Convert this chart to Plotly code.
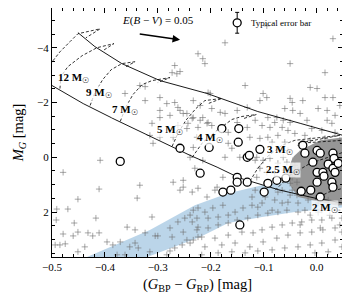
import plotly.graph_objects as go

# ---------------- data ----------------
# Reddening band (upper then lower edge)
band_x = [-0.441, -0.315, -0.230, -0.167, -0.103, -0.041, 0.054, 0.054, -0.041, -0.103, -0.167, -0.220, -0.328]
band_y = [3.70, 2.65, 1.75, 1.31, 1.02, 0.84, 0.58, 1.82, 2.00, 2.18, 2.40, 2.91, 3.70]

# Dense core of the field-star cloud
core_x = [-0.031, 0.007, 0.050, 0.050, 0.035, 0.016, -0.012, -0.035, -0.050, -0.054, -0.045]
core_y = [-0.25, -0.62, -0.73, 1.75, 1.75, 1.67, 1.56, 1.45, 1.02, 0.47, 0.00]

# Field stars (+ markers)
field_x = [
    -0.094, -0.173, 0.031, -0.224, -0.215, -0.211, -0.273, -0.258, -0.050, 0.016, -0.135, -0.268,
    0.031, 0.016, -0.012, 0.001, -0.101, -0.094, -0.050, -0.046, -0.201,
    -0.334, -0.324, -0.362, -0.324, -0.264, -0.296, -0.283, -0.268, -0.262, -0.233, -0.220,
    -0.296, -0.277, -0.252, -0.233, -0.215, -0.205, -0.243, -0.224, -0.315, -0.296, -0.271,
    -0.409, -0.205, -0.198, -0.182, -0.173, -0.258, -0.245, -0.235, -0.220, -0.207, -0.198,
    -0.296, -0.311, -0.262, -0.245, -0.167, -0.150, -0.131, -0.126, -0.167, -0.160, -0.145,
    -0.309, -0.233, -0.226, -0.173, -0.116, -0.150,
    -0.026, 0.003, 0.020, -0.060, -0.045, -0.031, -0.075, -0.063, -0.050, -0.018, 0.020,
    -0.088, -0.116, -0.131, -0.107, -0.092, -0.079, -0.103, -0.065, -0.054, -0.041, -0.073,
    -0.092, -0.107, -0.084, -0.060, 0.029, 0.010, 0.035, -0.009, -0.022,
    -0.113, -0.101, -0.088, -0.073, -0.056, -0.041, -0.035, -0.107, -0.094, -0.079, -0.113,
    -0.046, -0.050, -0.037, -0.046, -0.037, -0.054, -0.035, -0.016, 0.003, 0.022, 0.041,
    -0.022, 0.010, 0.039, -0.079, -0.097, -0.111, -0.084, -0.056,
    -0.239, -0.215, -0.230, -0.252, -0.258, -0.188, -0.177, -0.411, -0.334, -0.339, -0.271,
    -0.252, -0.235, -0.224, -0.207, -0.192, -0.122, -0.116, -0.073,
    -0.479, -0.451, -0.491, -0.470, -0.492, -0.458, -0.417, -0.311, -0.479, -0.494, -0.485,
    -0.475, -0.460, -0.451, -0.432, -0.423, -0.411, -0.438, -0.451, -0.358, -0.343, -0.324,
    -0.305, -0.300, -0.396, -0.385, -0.371, -0.353, -0.343, -0.337, -0.315, -0.377, -0.362,
    -0.283, -0.277, -0.268, -0.254, -0.245, -0.239, -0.233, -0.277, -0.262, -0.249, -0.239,
    -0.233, -0.226, -0.273, -0.252, -0.226, -0.224, -0.235,
    -0.224, -0.211, -0.196, -0.177, -0.205, -0.186, -0.167, -0.154, -0.139, -0.122, -0.103,
    -0.065, -0.224, -0.205, -0.186, -0.167, -0.150, -0.130, -0.111, -0.092, -0.073, -0.035,
    0.003, -0.217, -0.192, -0.167, -0.141, -0.120, -0.103, -0.084, -0.065, -0.046, -0.028,
    -0.009, 0.010, 0.029, 0.048, -0.211, -0.179, -0.154, -0.126, -0.101, -0.075, -0.054,
    -0.031, -0.009, 0.012, 0.035, 0.048, -0.217, -0.186, -0.160, -0.135, -0.111, -0.084,
    -0.060, -0.035, -0.012, 0.010, 0.035, 0.048, -0.003, 0.022,
    -0.031, -0.012, 0.016, 0.044, -0.054, -0.063, -0.060, -0.063, -0.065, -0.050, 0.025,
    -0.012, 0.044, 0.007, -0.031, 0.044, 0.035,
]
field_y = [
    -4.80, -4.18, -4.33, -3.78, -3.60, -3.42, -3.09, -3.13, -3.42, -3.09, -2.62, -3.35,
    -2.18, -2.18, -2.55, -2.51, -2.33, -2.18, -2.15, -2.00, -2.33,
    -2.62, -2.58, -2.33, -2.07, -3.05, -2.18, -1.96, -2.00, -1.82, -2.07, -1.89,
    -1.71, -1.53, -1.60, -1.45, -1.45, -1.27, -1.24, -1.09, -0.80, -0.73, -0.73,
    0.11, -2.36, -1.78, -1.64, -1.60, -1.71, -1.60, -1.42, -1.35, -1.24, -1.16,
    -1.45, -1.24, -1.16, -1.05, -0.91, -1.27, -1.09, -0.73, -0.51, -0.33, 0.00,
    -0.51, -0.36, -0.73, 0.00, 0.11, -1.71,
    -2.07, -1.78, -1.71, -1.78, -1.71, -1.60, -1.45, -1.35, -1.27, -1.35, -1.35,
    -1.09, -1.35, -1.82, -2.07, -1.45, -1.27, -1.16, -1.09, -0.98, -0.87, -0.80,
    -0.73, -0.69, -0.55, -0.55, -1.24, -0.98, -0.91, -1.05, -0.80,
    0.00, 0.11, 0.04, 0.22, 0.18, 0.29, 0.47, 0.40, 0.55, 0.58, 0.73,
    0.73, 0.95, 0.91, 1.20, 1.38, 1.64, 1.67, 1.56, 1.67, 1.56, 1.67,
    1.93, 1.93, 1.93, 1.56, 1.45, 1.82, 1.93, 1.93,
    0.00, 0.11, 0.40, 0.84, 1.20, 1.09, 0.73, 1.16, 1.02, 1.49, 0.91,
    1.09, 1.27, 1.13, 1.45, 1.20, 1.45, 1.20, 1.27,
    0.55, 1.53, 1.89, 1.89, 2.29, 2.40, 2.22, 2.18, 2.80, 3.20, 3.20,
    3.16, 2.87, 2.73, 2.76, 2.87, 2.76, 3.27, 3.45, 2.55, 2.65, 2.76,
    2.87, 2.87, 3.09, 3.20, 3.09, 3.27, 3.13, 3.31, 3.45, 3.56, 3.56,
    3.56, 3.42, 3.31, 3.20, 3.02, 3.13, 3.02, 2.58, 2.36, 2.22, 2.11,
    1.93, 2.22, 2.91, 2.73, 2.65, 2.91, 2.36,
    1.85, 2.00, 1.85, 1.75, 2.22, 2.18, 2.11, 2.00, 1.85, 1.75, 1.67,
    1.67, 2.55, 2.58, 2.47, 2.40, 2.29, 2.22, 2.11, 2.04, 2.00, 2.00,
    2.00, 2.91, 2.95, 2.84, 2.73, 2.76, 2.65, 2.55, 2.47, 2.40, 2.36,
    2.29, 2.29, 2.22, 2.22, 3.27, 3.20, 3.13, 3.27, 3.09, 2.95, 2.84,
    2.76, 2.73, 2.65, 2.58, 2.73, 3.56, 3.49, 3.45, 3.49, 3.42, 3.38,
    3.31, 3.27, 3.20, 3.13, 3.02, 3.27, 3.49, 3.45,
    -0.44, -0.62, -0.69, -0.62, -0.25, 0.00, 0.47, 0.84, 1.20, 1.38, 2.11,
    2.11, 2.47, 2.58, 2.47, -1.89, -1.53,
]

# Cluster members (open circles)
memb_x = [-0.371, -0.258, -0.220, -0.179, -0.147, -0.148, -0.203, -0.131, -0.127, -0.107,
          -0.150, -0.150, -0.131, -0.177, -0.162, -0.099, -0.092, -0.075, -0.058, -0.026,
          -0.022, 0.001, 0.007, 0.031, 0.033, -0.007, 0.022, 0.001, 0.012, 0.031,
          0.035, 0.001, 0.014, 0.029, 0.031, -0.011, -0.029, 0.007, 0.041, -0.145]
memb_y = [0.15, -0.33, 0.58, -1.05, -1.05, -0.55, -0.36, 0.00, -0.07, -0.29,
          0.73, 0.91, 0.91, 1.27, 1.20, 1.27, 0.95, 0.84, 0.76, -0.44,
          -0.15, -0.25, -0.15, -0.15, 0.04, 0.18, 0.25, 0.55, 0.55, 0.40,
          0.55, 0.91, 0.69, 0.91, 1.09, 1.20, 1.24, 1.45, 0.22, 2.47]

# ZAMS and terminal-age lines
zams_x = [-0.500, -0.441, -0.381, -0.296, -0.239, -0.188, -0.145, -0.069, -0.003, 0.050]
zams_y = [-2.62, -1.96, -1.38, -0.58, -0.07, 0.36, 0.76, 1.20, 1.49, 1.67]
tams_x = [-0.451, -0.419, -0.368, -0.334, -0.296, -0.207, -0.111, -0.031, 0.050]
tams_y = [-4.55, -4.04, -3.42, -3.13, -2.80, -2.33, -1.67, -1.24, -0.80]

# Evolutionary tracks (dashed)
tracks = {
    "15": ([-0.504, -0.485, -0.466, -0.451, -0.409, -0.436], [-3.38, -3.85, -4.22, -4.51, -4.69, -4.36]),
    "12": ([-0.485, -0.483, -0.470, -0.443, -0.415, -0.383, -0.404], [-2.51, -2.95, -3.31, -3.71, -4.00, -4.15, -3.89]),
    "9": ([-0.428, -0.419, -0.404, -0.388, -0.368, -0.343, -0.360], [-1.89, -2.36, -2.84, -3.20, -3.42, -3.49, -3.31]),
    "7": ([-0.371, -0.360, -0.347, -0.330, -0.311, -0.277, -0.300], [-1.31, -1.85, -2.29, -2.65, -2.80, -2.91, -2.73]),
    "5": ([-0.273, -0.262, -0.247, -0.228, -0.211, -0.179, -0.205], [-0.40, -0.87, -1.35, -1.78, -2.07, -2.15, -1.96]),
    "4": ([-0.235, -0.215, -0.188, -0.160, -0.141, -0.114, -0.137], [0.00, -0.55, -0.98, -1.38, -1.49, -1.56, -1.42]),
    "3": ([-0.126, -0.111, -0.092, -0.065, -0.041, 0.044, -0.035, 0.050], [0.87, 0.40, -0.04, -0.44, -0.62, -0.80, -0.51, -0.62]),
    "2.5": ([-0.078, -0.050, -0.012, 0.050], [1.20, 0.65, 0.22, -0.18]),
    "2": ([-0.003, 0.023, 0.050], [1.53, 1.27, 1.13]),
}

# Mass labels
mass_text = ["12", "9", "7", "5", "4", "3", "2.5", "2"]
mass_x = [-0.460, -0.411, -0.362, -0.277, -0.201, -0.069, -0.063, 0.016]
mass_y = [-2.91, -2.33, -1.71, -0.98, -0.69, -0.25, 0.47, 1.85]

# Reddening vector and typical error bar
redd_tail = (-0.337, -4.51)
redd_head = (-0.258, -4.29)
err_x, err_y, err_dy = [-0.150], [-4.91], [0.38]

SERIF = "Liberation Serif, DejaVu Serif, serif"

fig = go.Figure()

fig.add_trace(go.Scatter(x=band_x, y=band_y, mode="lines", fill="toself",
                         fillcolor="rgba(170,202,228,0.8)", line=dict(width=0),
                         hoverinfo="skip", showlegend=False))
fig.add_trace(go.Scatter(x=core_x, y=core_y, mode="lines", fill="toself",
                         fillcolor="rgb(150,150,150)", line=dict(width=0),
                         hoverinfo="skip", showlegend=False))
fig.add_trace(go.Scatter(x=field_x, y=field_y, mode="markers",
                         marker=dict(symbol="cross-thin", size=4.5,
                                     line=dict(width=1, color="rgba(110,110,110,0.6)")),
                         showlegend=False))
fig.add_trace(go.Scatter(x=zams_x, y=zams_y, mode="lines", line=dict(color="black", width=0.9),
                         showlegend=False))
fig.add_trace(go.Scatter(x=tams_x, y=tams_y, mode="lines", line=dict(color="black", width=0.9),
                         showlegend=False))
for name, (tx, ty) in tracks.items():
    fig.add_trace(go.Scatter(x=tx, y=ty, mode="lines",
                             line=dict(color="black", width=0.8, dash="3px,2px"),
                             showlegend=False))
fig.add_trace(go.Scatter(x=memb_x, y=memb_y, mode="markers",
                         marker=dict(symbol="circle", size=8, color="white",
                                     line=dict(color="black", width=1.3)),
                         showlegend=False))
fig.add_trace(go.Scatter(x=err_x, y=err_y, mode="markers",
                         error_y=dict(type="data", array=err_dy, color="black", thickness=1, width=2),
                         marker=dict(symbol="circle", size=8, color="white",
                                     line=dict(color="black", width=1.3)),
                         showlegend=False))

for t, x, y in zip(mass_text, mass_x, mass_y):
    fig.add_annotation(x=x, y=y, text=f"<b>{t} M</b><sub>☉</sub>", showarrow=False,
                       font=dict(family=SERIF, size=11, color="black"),
                       bgcolor="rgba(255,255,255,0.75)", borderpad=0)

fig.add_annotation(x=redd_head[0], y=redd_head[1], ax=redd_tail[0], ay=redd_tail[1],
                   xref="x", yref="y", axref="x", ayref="y", text="", showarrow=True,
                   arrowhead=2, arrowsize=1, arrowwidth=1.5, arrowcolor="black")
fig.add_annotation(x=-0.300, y=-4.98, text="<i>E</i>(<i>B</i> − <i>V</i>) = 0.05", showarrow=False,
                   font=dict(family=SERIF, size=11, color="black"))
fig.add_annotation(x=-0.128, y=-4.91, text="Typical error bar", showarrow=False, xanchor="left",
                   font=dict(family=SERIF, size=9, color="black"))

axis_common = dict(showline=True, linecolor="black", linewidth=1, mirror="allticks",
                   ticks="inside", ticklen=5, tickwidth=1, tickcolor="black",
                   showgrid=False, zeroline=False, automargin=False,
                   tickfont=dict(family=SERIF, size=11, color="black"))
fig.update_xaxes(range=[-0.5, 0.05], dtick=0.1, tick0=-0.5, tickformat=".1f",
                 minor=dict(ticks="inside", ticklen=3, dtick=0.02, tick0=-0.5, tickcolor="black"),
                 title=dict(text="(<i>G</i><sub>BP</sub> − <i>G</i><sub>RP</sub>) [mag]",
                            font=dict(family=SERIF, size=14.5, color="black"), standoff=6),
                 **axis_common)
fig.update_yaxes(range=[3.64, -5.45], dtick=2, tick0=0,
                 minor=dict(ticks="inside", ticklen=3, dtick=0.5, tick0=0, tickcolor="black"),
                 title=dict(text="<i>M</i><sub><i>G</i></sub> [mag]",
                            font=dict(family=SERIF, size=14.5, color="black"), standoff=10),
                 **axis_common)

# the page adds an 8 px body margin, so the figure is sized to land the axes where the reference has them
fig.update_layout(width=342, height=292, margin=dict(l=44, r=7, t=0, b=43),
                  plot_bgcolor="white", paper_bgcolor="white", showlegend=False)

fig.write_html("out.html")
